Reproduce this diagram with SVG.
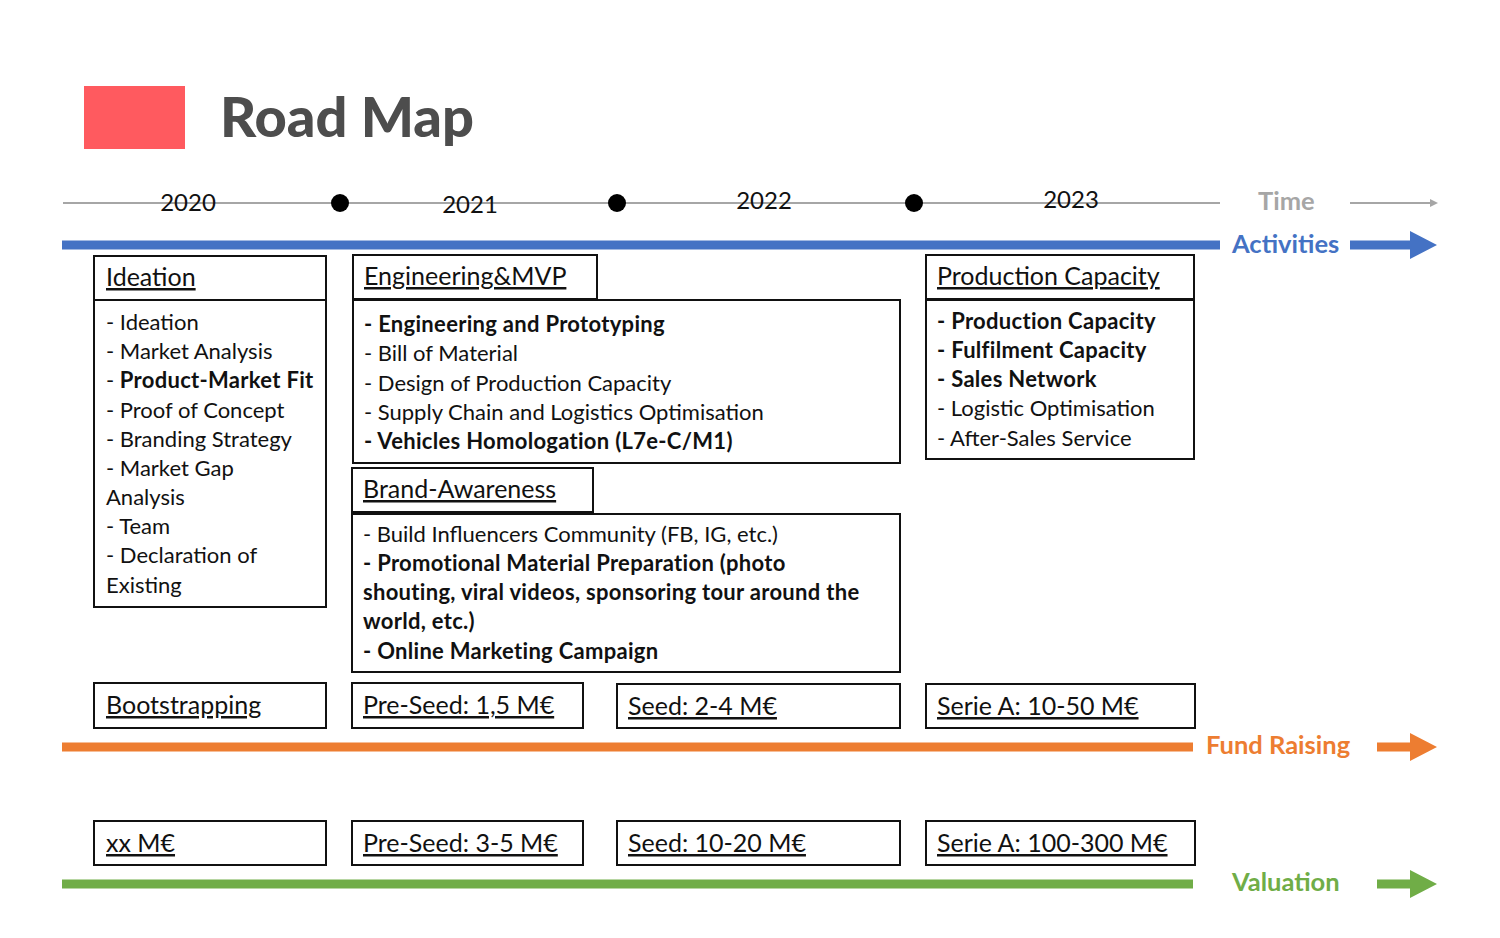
<svg xmlns="http://www.w3.org/2000/svg" width="1500" height="938" viewBox="0 0 1500 938">
  <style>
    .box { fill: #ffffff; stroke: #111111; stroke-width: 2; }
    .t { font-family: Lato, "Open Sans", sans-serif; font-size: 22px; fill: #111111; }
    .h { font-family: Lato, "Open Sans", sans-serif; font-size: 25px; fill: #111111; text-decoration: underline; }
    .b { font-weight: bold; letter-spacing: 0.3px; }
    .yr { font-family: Lato, "Open Sans", sans-serif; font-size: 24px; fill: #111111; text-anchor: middle; }
    .lbl { font-family: Lato, "Open Sans", sans-serif; font-size: 25.5px; font-weight: bold; }
  </style>
  <rect width="1500" height="938" fill="#ffffff"/>

  <!-- Title -->
  <g id="title">
    <rect x="84" y="86" width="101" height="63" fill="#ff5a5f"/>
    <text x="220" y="137" font-family="Lato, 'Noto Sans', sans-serif" font-size="56" font-weight="900" fill="#4d4d4d">Road Map</text>
  </g>

  <!-- Axes / connectors -->
  <g id="connectors">
    <!-- time axis -->
    <line x1="63" y1="203" x2="1220" y2="203" stroke="#a6a6a6" stroke-width="2"/>
    <circle cx="340" cy="203" r="9" fill="#000"/>
    <circle cx="617" cy="203" r="9" fill="#000"/>
    <circle cx="914" cy="203" r="9" fill="#000"/>
    <line x1="1350" y1="203" x2="1431" y2="203" stroke="#a6a6a6" stroke-width="2"/>
    <polygon points="1430,199 1438,203 1430,207" fill="#a6a6a6"/>
    <!-- activities -->
    <line x1="62" y1="245" x2="1220" y2="245" stroke="#4472c4" stroke-width="9"/>
    <polygon points="1350,240.5 1410,240.5 1410,231 1437,245 1410,259 1410,249.5 1350,249.5" fill="#4472c4"/>
    <!-- fund raising -->
    <line x1="62" y1="747" x2="1193" y2="747" stroke="#ed7d31" stroke-width="9"/>
    <polygon points="1377,742.5 1410,742.5 1410,733 1437,747 1410,761 1410,751.5 1377,751.5" fill="#ed7d31"/>
    <!-- valuation -->
    <line x1="62" y1="884" x2="1193" y2="884" stroke="#70ad47" stroke-width="9"/>
    <polygon points="1377,879.5 1410,879.5 1410,870 1437,884 1410,898 1410,888.5 1377,888.5" fill="#70ad47"/>
  </g>

  <g id="axis-labels">
    <text class="yr" x="188" y="211">2020</text>
    <text class="yr" x="470" y="213">2021</text>
    <text class="yr" x="764" y="209">2022</text>
    <text class="yr" x="1071" y="208">2023</text>
    <text class="lbl" x="1258" y="210" fill="#a6a6a6">Time</text>
    <text class="lbl" x="1232" y="253" fill="#4472c4">Activities</text>
    <text class="lbl" x="1206" y="754" fill="#ed7d31">Fund Raising</text>
    <text class="lbl" x="1232" y="891" fill="#70ad47">Valuation</text>
  </g>

  <!-- Ideation -->
  <g id="ideation">
    <rect class="box" x="94" y="256" width="232" height="44"/>
    <text class="h" x="106" y="286">Ideation</text>
    <rect class="box" x="94" y="300" width="232" height="307"/>
    <text class="t" x="106" y="330">- Ideation</text>
    <text class="t" x="106" y="359">- Market Analysis</text>
    <text class="t" x="106" y="388">- <tspan class="b">Product-Market Fit</tspan></text>
    <text class="t" x="106" y="418">- Proof of Concept</text>
    <text class="t" x="106" y="447">- Branding Strategy</text>
    <text class="t" x="106" y="476">- Market Gap</text>
    <text class="t" x="106" y="505">Analysis</text>
    <text class="t" x="106" y="534">- Team</text>
    <text class="t" x="106" y="563">- Declaration of</text>
    <text class="t" x="106" y="593">Existing</text>
  </g>

  <!-- Engineering & MVP -->
  <g id="engineering">
    <rect class="box" x="353" y="255" width="244" height="44"/>
    <text class="h" x="364" y="285">Engineering&amp;MVP</text>
    <rect class="box" x="353" y="300" width="547" height="163"/>
    <text class="t b" x="364" y="332">- Engineering and Prototyping</text>
    <text class="t" x="364" y="361">- Bill of Material</text>
    <text class="t" x="364" y="391">- Design of Production Capacity</text>
    <text class="t" x="364" y="420">- Supply Chain and Logistics Optimisation</text>
    <text class="t b" x="364" y="449">- Vehicles Homologation (L7e-C/M1)</text>
  </g>

  <!-- Brand awareness -->
  <g id="brand">
    <rect class="box" x="352" y="468" width="241" height="44"/>
    <text class="h" x="363" y="498">Brand-Awareness</text>
    <rect class="box" x="352" y="514" width="548" height="158"/>
    <text class="t" x="363" y="542">- Build Influencers Community (FB, IG, etc.)</text>
    <text class="t b" x="363" y="571">- Promotional Material Preparation (photo</text>
    <text class="t b" x="363" y="600">shouting, viral videos, sponsoring tour around the</text>
    <text class="t b" x="363" y="629">world, etc.)</text>
    <text class="t b" x="363" y="659">- Online Marketing Campaign</text>
  </g>

  <!-- Production capacity -->
  <g id="production">
    <rect class="box" x="926" y="255" width="268" height="44"/>
    <text class="h" x="937" y="285">Production Capacity</text>
    <rect class="box" x="926" y="300" width="268" height="159"/>
    <text class="t b" x="937" y="329">- Production Capacity</text>
    <text class="t b" x="937" y="358">- Fulfilment Capacity</text>
    <text class="t b" x="937" y="387">- Sales Network</text>
    <text class="t" x="937" y="416">- Logistic Optimisation</text>
    <text class="t" x="937" y="446">- After-Sales Service</text>
  </g>

  <!-- Fund raising stages -->
  <g id="fund-bootstrapping">
    <rect class="box" x="94" y="683" width="232" height="45"/>
    <text class="h" x="106" y="714">Bootstrapping</text>
  </g>
  <g id="fund-preseed">
    <rect class="box" x="352" y="683" width="231" height="45"/>
    <text class="h" x="363" y="714">Pre-Seed: 1,5 M€</text>
  </g>
  <g id="fund-seed">
    <rect class="box" x="617" y="684" width="283" height="44"/>
    <text class="h" x="628" y="715">Seed: 2-4 M€</text>
  </g>
  <g id="fund-seriea">
    <rect class="box" x="926" y="684" width="269" height="44"/>
    <text class="h" x="937" y="715">Serie A: 10-50 M€</text>
  </g>

  <!-- Valuation stages -->
  <g id="val-xx">
    <rect class="box" x="94" y="821" width="232" height="44"/>
    <text class="h" x="106" y="852">xx M€</text>
  </g>
  <g id="val-preseed">
    <rect class="box" x="352" y="821" width="231" height="44"/>
    <text class="h" x="363" y="852">Pre-Seed: 3-5 M€</text>
  </g>
  <g id="val-seed">
    <rect class="box" x="617" y="821" width="283" height="44"/>
    <text class="h" x="628" y="852">Seed: 10-20 M€</text>
  </g>
  <g id="val-seriea">
    <rect class="box" x="926" y="821" width="269" height="44"/>
    <text class="h" x="937" y="852">Serie A: 100-300 M€</text>
  </g>
</svg>
